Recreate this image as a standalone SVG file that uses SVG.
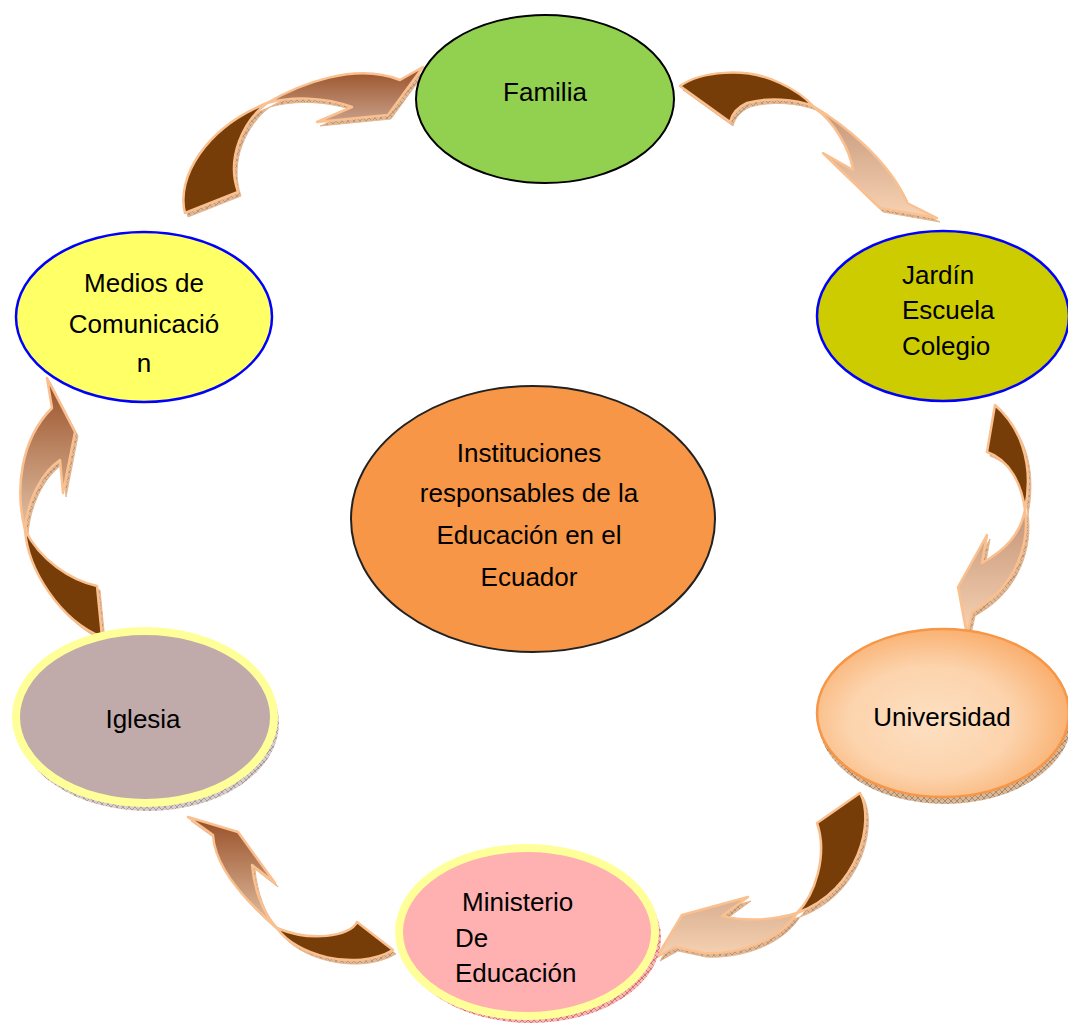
<svg xmlns="http://www.w3.org/2000/svg" xmlns:xlink="http://www.w3.org/1999/xlink" width="1068" height="1023" viewBox="0 0 1068 1023">
<style>
text{font-family:"Liberation Sans",Arial,sans-serif;font-size:26px;fill:#000}
.dark{fill:#773D08;stroke:#FAC08F;stroke-width:2.5;stroke-linejoin:round}
.ext{fill:url(#hatchTan);stroke:#E8B890;stroke-width:1}
.lt{stroke:#FAC08F;stroke-width:2.5;stroke-linejoin:round}
.blue{stroke:#0000FF;stroke-width:2.5}
.ring{stroke:#FFFF99;stroke-width:8}
</style>
<defs>
<pattern id="hatchTan" width="6" height="6" patternUnits="userSpaceOnUse"><rect width="6" height="6" fill="#DDB896"/><path d="M0,6 L6,0 M0,0 L6,6" stroke="#A87A5A" stroke-width="0.6"/></pattern>
<pattern id="hatchGrey" width="6" height="6" patternUnits="userSpaceOnUse"><rect width="6" height="6" fill="#D8CCCC"/><path d="M0,6 L6,0 M0,0 L6,6" stroke="#8A7A7A" stroke-width="0.6"/></pattern>
<pattern id="hatchRed" width="6" height="6" patternUnits="userSpaceOnUse"><rect width="6" height="6" fill="#F2B8B8"/><path d="M0,6 L6,0 M0,0 L6,6" stroke="#D04040" stroke-width="0.6"/></pattern>
<pattern id="hatchBrown" width="6" height="6" patternUnits="userSpaceOnUse"><rect width="6" height="6" fill="#D8B898"/><path d="M0,6 L6,0 M0,0 L6,6" stroke="#8A6A4A" stroke-width="0.6"/></pattern>
<linearGradient id="gBrown" x1="0" y1="0" x2="0" y2="1"><stop offset="0" stop-color="#984E24"/><stop offset="1" stop-color="#C8A08A"/></linearGradient>
<linearGradient id="gBrownV" x1="0" y1="0" x2="0" y2="1"><stop offset="0" stop-color="#984E26"/><stop offset="1" stop-color="#E2C2A6"/></linearGradient>
<linearGradient id="gLight" x1="0" y1="0" x2="0" y2="1"><stop offset="0" stop-color="#C49478"/><stop offset="1" stop-color="#F8D4B4"/></linearGradient>
<linearGradient id="gLight2" x1="0" y1="0" x2="0" y2="1"><stop offset="0" stop-color="#D8AE90"/><stop offset="1" stop-color="#F6D2B2"/></linearGradient>
<radialGradient id="gUni" cx="0.45" cy="0.55" r="0.6"><stop offset="0" stop-color="#FDE0C2"/><stop offset="0.55" stop-color="#FCD3AC"/><stop offset="1" stop-color="#F9AA66"/></radialGradient>
<path id="a1d" d="M185,213 C176,178 205,128 267,103 C243,121 226,158 238,192 Z"/>
<path id="a1l" d="M267,103 C300,84 355,62 400,80 L423,67 L388,115 L317,122 L352,107 C325,97 292,96 267,103 Z"/>
<path id="a2d" d="M680,86 C700,72 745,66 780,83 C795,90 805,97 813,106 C795,99 768,97 747,103 C738,107 732,114 730,122 Z"/>
<path id="a2l" d="M813,106 C840,122 890,160 907,203 L937,218 L880,208 L823,153 L853,170 C850,150 835,122 813,106 Z"/>
<path id="a3d" d="M995,405 C1018,425 1035,460 1025,510 C1022,485 1010,460 987,452 Z"/>
<path id="a3l" d="M1025,510 C1030,545 1015,585 980,607 L972,612 L967,635 L958,587 L987,535 L982,563 C1005,550 1020,535 1025,510 Z"/>
<path id="a4d" d="M817,823 L860,793 C875,820 860,890 797,913 C815,895 828,855 817,823 Z"/>
<path id="a4l" d="M797,913 C780,940 740,955 703,953 L675,947 L657,957 L682,915 L748,897 L722,916 C745,922 775,920 797,913 Z"/>
<path id="a5d" d="M393,950 L357,922 C350,937 310,942 277,928 C295,955 355,972 393,950 Z"/>
<path id="a5l" d="M277,928 C250,905 215,870 213,835 L188,817 L238,832 L275,883 L252,865 C254,888 262,912 277,928 Z"/>
<path id="a6d" d="M25,530 C28,570 60,620 102,637 L97,586 C70,580 40,560 25,530 Z"/>
<path id="a6l" d="M25,530 C15,490 20,440 52,408 L47,378 L75,432 L63,493 L60,460 C45,470 28,495 25,530 Z"/>
</defs>
<g id="connectors">
<g id="arrow-medios-familia">
<use xlink:href="#a1d" href="#a1d" class="ext" transform="translate(3,4)"/>
<use xlink:href="#a1l" href="#a1l" class="ext" transform="translate(3,4)"/>
<use xlink:href="#a1d" href="#a1d" class="dark"/>
<use xlink:href="#a1l" href="#a1l" class="lt" fill="url(#gBrown)"/>
</g>
<g id="arrow-familia-jardin">
<use xlink:href="#a2d" href="#a2d" class="ext" transform="translate(3,4)"/>
<use xlink:href="#a2l" href="#a2l" class="ext" transform="translate(3,4)"/>
<use xlink:href="#a2d" href="#a2d" class="dark"/>
<use xlink:href="#a2l" href="#a2l" class="lt" fill="url(#gLight)"/>
</g>
<g id="arrow-jardin-universidad">
<use xlink:href="#a3d" href="#a3d" class="ext" transform="translate(3,4)"/>
<use xlink:href="#a3l" href="#a3l" class="ext" transform="translate(3,4)"/>
<use xlink:href="#a3d" href="#a3d" class="dark"/>
<use xlink:href="#a3l" href="#a3l" class="lt" fill="url(#gLight)"/>
</g>
<g id="arrow-universidad-ministerio">
<use xlink:href="#a4d" href="#a4d" class="ext" transform="translate(3,4)"/>
<use xlink:href="#a4l" href="#a4l" class="ext" transform="translate(3,4)"/>
<use xlink:href="#a4d" href="#a4d" class="dark"/>
<use xlink:href="#a4l" href="#a4l" class="lt" fill="url(#gLight2)"/>
</g>
<g id="arrow-ministerio-iglesia">
<use xlink:href="#a5d" href="#a5d" class="ext" transform="translate(3,4)"/>
<use xlink:href="#a5l" href="#a5l" class="ext" transform="translate(3,4)"/>
<use xlink:href="#a5d" href="#a5d" class="dark"/>
<use xlink:href="#a5l" href="#a5l" class="lt" fill="url(#gBrownV)"/>
</g>
<g id="arrow-iglesia-medios">
<use xlink:href="#a6d" href="#a6d" class="ext" transform="translate(3,4)"/>
<use xlink:href="#a6l" href="#a6l" class="ext" transform="translate(3,4)"/>
<use xlink:href="#a6d" href="#a6d" class="dark"/>
<use xlink:href="#a6l" href="#a6l" class="lt" fill="url(#gBrownV)"/>
</g>
</g>
<g id="node-familia">
<ellipse cx="545" cy="99" rx="129" ry="84" fill="#92D050" stroke="#000" stroke-width="2"/>
<text x="545" y="101" text-anchor="middle">Familia</text>
</g>
<g id="node-jardin">
<ellipse cx="943" cy="316" rx="126" ry="85" fill="#CCCC00" class="blue"/>
<text x="902" y="284">Jardín</text>
<text x="902" y="319">Escuela</text>
<text x="902" y="355">Colegio</text>
</g>
<g id="node-medios">
<ellipse cx="144" cy="317" rx="128" ry="85" fill="#FFFF66" class="blue"/>
<text x="144" y="292" text-anchor="middle">Medios de</text>
<text x="144" y="333" text-anchor="middle">Comunicació</text>
<text x="144" y="372" text-anchor="middle">n</text>
</g>
<g id="node-centro">
<ellipse cx="533" cy="519" rx="182" ry="133" fill="#F79646" stroke="#222" stroke-width="2"/>
<text x="529" y="462" text-anchor="middle">Instituciones</text>
<text x="529" y="502" text-anchor="middle">responsables de la</text>
<text x="529" y="544" text-anchor="middle">Educación en el</text>
<text x="529" y="586" text-anchor="middle">Ecuador</text>
</g>
<g id="node-iglesia">
<ellipse cx="148" cy="723" rx="131" ry="88" fill="url(#hatchGrey)"/>
<ellipse cx="145" cy="717" rx="129" ry="86" fill="#C0AAAA" class="ring"/>
<text x="143" y="728" text-anchor="middle">Iglesia</text>
</g>
<g id="node-universidad">
<ellipse cx="945" cy="719" rx="127" ry="85" fill="url(#hatchBrown)"/>
<ellipse cx="943" cy="713" rx="126" ry="84" fill="url(#gUni)" stroke="#F79646" stroke-width="2.5"/>
<text x="942" y="726" text-anchor="middle">Universidad</text>
</g>
<g id="node-ministerio">
<ellipse cx="531" cy="938" rx="130" ry="85" fill="url(#hatchRed)"/>
<ellipse cx="527" cy="932" rx="128" ry="84" fill="#FFB0B0" class="ring"/>
<text x="462" y="911">Ministerio</text>
<text x="455" y="947">De</text>
<text x="455" y="982">Educación</text>
</g>
</svg>
